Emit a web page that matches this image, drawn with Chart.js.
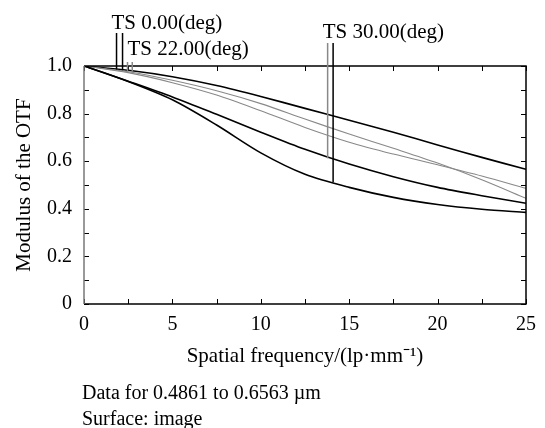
<!DOCTYPE html>
<html>
<head>
<meta charset="utf-8">
<script src="https://cdn.jsdelivr.net/npm/chart.js@4/dist/chart.umd.min.js"></script>
<style>
  html, body { margin: 0; padding: 0; background: #fff; }
  #wrap { width: 545px; height: 428px; }
</style>
</head>
<body>
<div id="wrap"><canvas id="mtfChart" width="545" height="428"></canvas></div>
<script>
// MTF curves
const freq    = [0, 2.5, 5, 7.5, 10, 12.5, 15, 17.5, 20, 22.5, 25];
const ts0     = [1, 0.982, 0.955, 0.918, 0.872, 0.822, 0.772, 0.722, 0.668, 0.616, 0.566];
const ts22T   = [1, 0.976, 0.940, 0.896, 0.842, 0.777, 0.714, 0.654, 0.592, 0.522, 0.444];
const ts22S   = [1, 0.972, 0.930, 0.878, 0.812, 0.742, 0.680, 0.630, 0.585, 0.538, 0.486];
const ts30T   = [1, 0.936, 0.870, 0.797, 0.722, 0.650, 0.588, 0.535, 0.490, 0.455, 0.423];
const ts30S   = [1, 0.935, 0.858, 0.752, 0.635, 0.545, 0.490, 0.448, 0.418, 0.398, 0.385];

// leader lines for the field labels (frequency, value where it meets the curve)
const leaderX   = [1.84, 2.18, 2.46, 2.73, 13.78, 14.09];
const leaderY   = [0.985, 0.982, 0.978, 0.976, 0.612, 0.512];
const leaderTop = [33, 33, 62, 62, 43, 43];
const leaderCol = ['#000', '#000', '#888', '#888', '#888', '#000'];

const fieldLabels = ['TS 0.00(deg)', 'TS 22.00(deg)', 'TS 30.00(deg)'];
const labelAt     = [1.84, 2.46, 13.78];
const labelBase   = [29, 55, 38];
const labelShift  = [-5, 0, -5];

const footLines = ['Data for 0.4861 to 0.6563 \u00b5m', 'Surface: image'];

const serif = "'Liberation Serif', 'Times New Roman', serif";

function pts(ys) {
    return freq.map((f, i) => ({ x: f, y: ys[i] }));
}

function curve(ys, color, width) {
    return {
        data: pts(ys),
        borderColor: color,
        borderWidth: width,
        pointRadius: 0,
        fill: false,
        tension: 0.3
    };
}

// frame, inward ticks, leader lines and text
const extras = {
    id: 'extras',
    afterDraw(chart) {
        const ctx = chart.ctx;
        const a = chart.chartArea;
        const xs = chart.scales.x, ys = chart.scales.y;
        ctx.save();

        // ticks
        ctx.strokeStyle = '#000';
        ctx.lineWidth = 1;
        ctx.beginPath();
        xs.ticks.forEach(t => {
            const px = Math.round(xs.getPixelForValue(t.value)) + 0.5;
            ctx.moveTo(px, a.bottom); ctx.lineTo(px, a.bottom - 5);
            ctx.moveTo(px, a.top); ctx.lineTo(px, a.top + 5);
        });
        ys.ticks.forEach(t => {
            const py = Math.round(ys.getPixelForValue(t.value)) + 0.5;
            ctx.moveTo(a.left, py); ctx.lineTo(a.left + 5, py);
            ctx.moveTo(a.right, py); ctx.lineTo(a.right - 5, py);
        });
        ctx.stroke();

        // frame
        ctx.lineWidth = 1.5;
        ctx.beginPath();
        ctx.moveTo(a.left, a.bottom); ctx.lineTo(a.right, a.bottom);
        ctx.lineTo(a.right, a.top); ctx.lineTo(a.left, a.top);
        ctx.stroke();
        ctx.strokeStyle = '#777';
        ctx.beginPath();
        ctx.moveTo(a.left, a.top); ctx.lineTo(a.left, a.bottom);
        ctx.stroke();

        // leader lines
        ctx.lineWidth = 1.5;
        leaderX.forEach((lx, i) => {
            const px = xs.getPixelForValue(lx);
            ctx.strokeStyle = leaderCol[i];
            ctx.beginPath();
            ctx.moveTo(px, leaderTop[i]);
            ctx.lineTo(px, ys.getPixelForValue(leaderY[i]));
            ctx.stroke();
        });

        // field labels
        ctx.fillStyle = '#000';
        ctx.font = '21px ' + serif;
        ctx.textAlign = 'left';
        ctx.textBaseline = 'alphabetic';
        fieldLabels.forEach((txt, i) => {
            ctx.fillText(txt, xs.getPixelForValue(labelAt[i]) + labelShift[i], labelBase[i]);
        });

        // footer
        ctx.font = '20px ' + serif;
        ctx.fillText(footLines[0], a.left - 2, 399);
        ctx.fillText(footLines[1], a.left - 2, 425);
        ctx.restore();
    }
};

const ctx = document.getElementById('mtfChart').getContext('2d');
new Chart(ctx, {
    type: 'line',
    data: {
        datasets: [
            curve(ts30S, '#000', 1.6),
            curve(ts30T, '#000', 1.6),
            curve(ts22S, '#888', 1.1),
            curve(ts22T, '#888', 1.1),
            curve(ts0, '#000', 1.6)
        ]
    },
    options: {
        responsive: false,
        animation: false,
        layout: { padding: { left: 0, top: 66, right: 13, bottom: 54 } },
        plugins: {
            legend: { display: false },
            tooltip: { enabled: false }
        },
        scales: {
            x: {
                type: 'linear',
                min: 0,
                max: 25,
                grid: { display: false, drawTicks: false },
                border: { display: false },
                afterFit: s => { s.height = 70; },
                ticks: {
                    stepSize: 2.5,
                    autoSkip: false,
                    maxRotation: 0,
                    padding: 9,
                    color: '#000',
                    font: { family: serif, size: 20 },
                    callback: v => (Math.round(v * 2) % 10 === 0 ? String(v) : '')
                },
                title: {
                    display: true,
                    text: 'Spatial frequency/(lp\u00b7mm\u207b\u00b9)',
                    color: '#000',
                    font: { family: serif, size: 21 },
                    padding: { top: 0, bottom: 5 }
                }
            },
            y: {
                min: 0,
                max: 1,
                grid: { display: false, drawTicks: false },
                border: { display: false },
                afterFit: s => { s.width = 84; },
                ticks: {
                    stepSize: 0.1,
                    autoSkip: false,
                    padding: 12,
                    color: '#000',
                    font: { family: serif, size: 20 },
                    callback: v => {
                        const k = Math.round(v * 10);
                        if (k % 2 !== 0) return '';
                        return k === 0 ? '0' : (k / 10).toFixed(1);
                    }
                },
                title: {
                    display: true,
                    text: 'Modulus of the OTF',
                    color: '#000',
                    font: { family: serif, size: 21 },
                    padding: { top: 12, bottom: 0 }
                }
            }
        }
    },
    plugins: [extras]
});
</script>
</body>
</html>
